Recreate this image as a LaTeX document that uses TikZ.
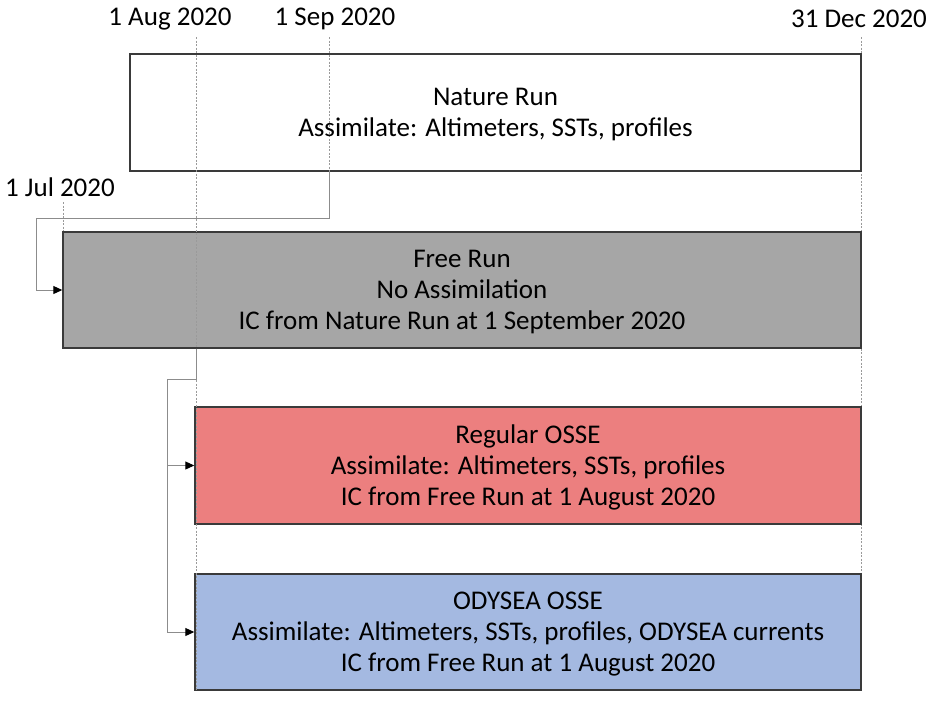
\documentclass[tikz,border=0pt]{standalone}
\usepackage{fontspec}
\setmainfont{Carlito}
\usetikzlibrary{arrows.meta}
\definecolor{boxedge}{HTML}{3A3A3A}
\definecolor{freegray}{HTML}{A6A6A6}
\definecolor{osred}{HTML}{EC7F7F}
\definecolor{osblue}{HTML}{A4B9E1}
\definecolor{conngray}{HTML}{8C8C8C}
\definecolor{dotgray}{HTML}{9A9A9A}
\tikzset{
  box/.style={draw=boxedge, line width=1.4pt, inner sep=0pt},
  boxtext/.style={align=center, inner sep=0pt, font=\fontsize{27}{31}\selectfont},
  datelabel/.style={font=\fontsize{27}{31}\selectfont, inner sep=0pt},
  guide/.style={draw=dotgray, line width=1pt, dash pattern=on 2pt off 1.5pt},
  conn/.style={draw=conngray, line width=1pt},
  connarrow/.style={conn, -{Triangle[length=9pt,width=8pt,color=black,fill=black]}},
}
\begin{document}
\begin{tikzpicture}[x=1pt,y=-1pt]
\useasboundingbox (0,0) rectangle (937,702);
% date labels
\node[datelabel] (laug) at (170,19) {1 Aug 2020};
\node[datelabel] (lsep) at (335,19) {1 Sep 2020};
\node[datelabel] (ldec) at (859,19) {31 Dec 2020};
\node[datelabel] (ljul) at (60,187) {1 Jul 2020};
\coordinate (aug) at (196,37);
\coordinate (sep) at (329,37);
\coordinate (dec) at (861,37);
\coordinate (jul) at (63,202);
\coordinate (augend) at (196,690);
\coordinate (decend) at (861,690);
\coordinate (sepend) at (329,218);
% 31 Dec guide behind boxes
\path[guide] (dec) -- (decend);
% boxes
\node[box, fill=white, minimum width=731pt, minimum height=117pt] (nature) at (495.5,112.5) {};
\node[box, fill=freegray, minimum width=798pt, minimum height=116pt] (free) at (462,290) {};
\node[box, fill=osred, minimum width=666pt, minimum height=117pt] (regular) at (528,465.5) {};
\node[box, fill=osblue, minimum width=666pt, minimum height=116pt] (odysea) at (528,632) {};
% guides on top
\path[guide] (aug) -- (augend);
\path[guide] (sep) -- (sepend);
\path[guide] (jul) -- (free.north -| jul);
% box texts
\node[boxtext] (naturetext) at ([yshift=-2pt]nature.center)
  {Nature Run\\Assimilate: Altimeters, SSTs, profiles};
\node[boxtext] (freetext) at ([yshift=-2pt]free.center)
  {Free Run\\No Assimilation\\IC from Nature Run at 1 September 2020};
\node[boxtext] (regulartext) at ([yshift=-2pt]regular.center)
  {Regular OSSE\\Assimilate: Altimeters, SSTs, profiles\\IC from Free Run at 1 August 2020};
\node[boxtext] (odyseatext) at ([yshift=-2pt]odysea.center)
  {ODYSEA OSSE\\Assimilate: Altimeters, SSTs, profiles, ODYSEA currents\\IC from Free Run at 1 August 2020};
% connectors
\coordinate (k1) at (36,218);
\coordinate (k2) at (167,379);
\draw[connarrow] (nature.south -| sep) |- (k1) |- (free.west);
\draw[connarrow] (free.south -| aug) |- (k2) |- (odysea.west);
\draw[connarrow] (k2 |- regular.west) -- (regular.west);
\end{tikzpicture}
\end{document}
